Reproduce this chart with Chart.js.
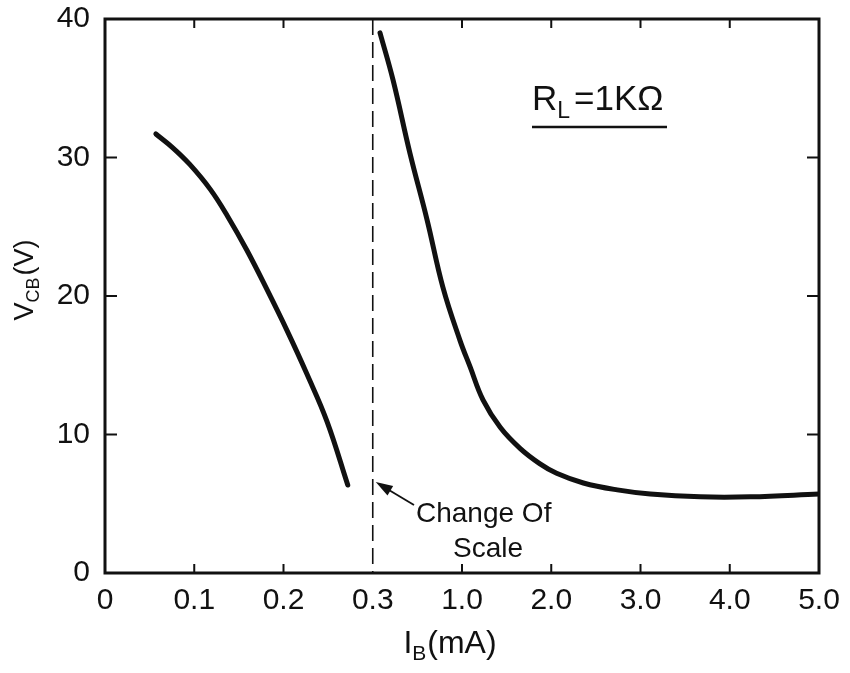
<!DOCTYPE html>
<html>
<head>
<meta charset="utf-8">
<title>VCB vs IB</title>
<script src="https://cdn.jsdelivr.net/npm/chart.js@4.4.1/dist/chart.umd.min.js"></script>
<style>
  html, body { margin: 0; padding: 0; background: #fff; }
  #wrap { width: 850px; height: 673px; }
</style>
</head>
<body>
<div id="wrap"><canvas id="vcbChart" width="850" height="673"></canvas></div>
<script>
// Collector-base voltage against base current, RL = 1 kOhm.
// The IB axis changes scale at 0.3 mA.

// Low-current branch (0 - 0.3 mA scale)
const LOW_IB = [0.057, 0.076, 0.095, 0.118, 0.137, 0.159, 0.182, 0.204, 0.226, 0.249, 0.272];
const LOW_VCB = [31.7, 30.7, 29.5, 27.7, 25.8, 23.3, 20.4, 17.5, 14.4, 10.9, 6.35];

// High-current branch (0.3 - 5.0 mA scale)
const HIGH_IB = [0.357, 0.459, 0.592, 0.726, 0.851, 0.984, 1.09, 1.235, 1.43, 1.65, 1.87, 2.06, 2.36, 2.74, 3.11, 3.67, 4.23, 5.0];
const HIGH_VCB = [39.0, 35.6, 30.3, 25.5, 20.6, 16.8, 14.9, 12.5, 10.5, 9.0, 7.9, 7.2, 6.5, 6.0, 5.7, 5.5, 5.5, 5.7];

// Axis ticks
const X_TICK_IB = [0, 0.1, 0.2, 0.3, 1.0, 2.0, 3.0, 4.0, 5.0];
const X_TICK_LABELS = ['0', '0.1', '0.2', '0.3', '1.0', '2.0', '3.0', '4.0', '5.0'];
const Y_TICKS = [0, 10, 20, 30, 40];

const SCALE_BREAK = 0.3;

const INK = '#111';
const FONT = '"Liberation Sans", Arial, sans-serif';

// Map a base current (mA) onto the broken axis: 0.1 mA per unit below
// the break, then 0.3 -> 1.0 takes one unit and 1 mA per unit after that.
function toAxis(ib) {
  if (ib <= SCALE_BREAK) return ib * 10;
  if (ib <= 1.0) return 3 + (ib - SCALE_BREAK) / 0.7;
  return 4 + (ib - 1.0);
}

function toPoints(xs, ys) {
  return xs.map((x, i) => ({ x: toAxis(x), y: ys[i] }));
}

// Draws text made of normal and subscript runs starting at x
function drawRuns(ctx, runs, x, y, size) {
  let cx = x;
  runs.forEach(r => {
    const s = r.sub ? Math.round(size * 0.66) : size;
    ctx.font = s + 'px ' + FONT;
    ctx.fillText(r.t, cx, r.sub ? y + size * 0.22 : y);
    cx += ctx.measureText(r.t).width + (r.gap || 0);
  });
  return cx - x;
}

function runsWidth(ctx, runs, size) {
  let w = 0;
  runs.forEach(r => {
    const s = r.sub ? Math.round(size * 0.66) : size;
    ctx.font = s + 'px ' + FONT;
    w += ctx.measureText(r.t).width + (r.gap || 0);
  });
  return w;
}

const frameAndNotes = {
  id: 'frameAndNotes',
  afterDatasetsDraw(chart) {
    const { ctx, chartArea: a, scales: { x, y } } = chart;
    ctx.save();
    ctx.strokeStyle = INK;
    ctx.fillStyle = INK;

    // frame
    ctx.lineWidth = 3;
    ctx.strokeRect(a.left, a.top, a.right - a.left, a.bottom - a.top);

    // inward ticks on all four sides
    ctx.lineWidth = 2;
    ctx.beginPath();
    y.ticks.forEach(t => {
      if (t.value <= 0 || t.value >= 40) return;
      const py = y.getPixelForValue(t.value);
      ctx.moveTo(a.left, py); ctx.lineTo(a.left + 12, py);
      ctx.moveTo(a.right, py); ctx.lineTo(a.right - 12, py);
    });
    x.ticks.forEach(t => {
      if (t.value <= 0 || t.value >= 8 || t.value === toAxis(SCALE_BREAK)) return;
      const px = x.getPixelForValue(t.value);
      ctx.moveTo(px, a.bottom); ctx.lineTo(px, a.bottom - 9);
      ctx.moveTo(px, a.top); ctx.lineTo(px, a.top + 9);
    });
    ctx.stroke();

    // dashed line at the change of scale
    const xb = x.getPixelForValue(toAxis(SCALE_BREAK));
    ctx.lineWidth = 1.6;
    ctx.setLineDash([16, 7]);
    ctx.beginPath();
    ctx.moveTo(xb, a.top);
    ctx.lineTo(xb, a.bottom);
    ctx.stroke();
    ctx.setLineDash([]);

    // arrow pointing at the dashed line
    const tipX = xb + 3, tipY = 482, tailX = 414, tailY = 505;
    const ang = Math.atan2(tipY - tailY, tipX - tailX);
    ctx.lineWidth = 1.8;
    ctx.beginPath();
    ctx.moveTo(tailX, tailY);
    ctx.lineTo(tipX - 10 * Math.cos(ang), tipY - 10 * Math.sin(ang));
    ctx.stroke();
    ctx.beginPath();
    ctx.moveTo(tipX, tipY);
    ctx.lineTo(tipX - 17 * Math.cos(ang) + 5.5 * Math.sin(ang), tipY - 17 * Math.sin(ang) - 5.5 * Math.cos(ang));
    ctx.lineTo(tipX - 17 * Math.cos(ang) - 5.5 * Math.sin(ang), tipY - 17 * Math.sin(ang) + 5.5 * Math.cos(ang));
    ctx.closePath();
    ctx.fill();

    // "Change Of Scale" note
    ctx.textBaseline = 'alphabetic';
    ctx.font = '28px ' + FONT;
    ctx.textAlign = 'left';
    ctx.fillText('Change Of', 416, 522);
    ctx.textAlign = 'center';
    ctx.fillText('Scale', 488, 557);

    // load resistance label, underlined
    ctx.textAlign = 'left';
    const rl = [{ t: 'R' }, { t: 'L', sub: true, gap: 4 }, { t: '=1K\u03A9' }];
    drawRuns(ctx, rl, 532, 110, 35);
    ctx.lineWidth = 2.5;
    ctx.beginPath();
    ctx.moveTo(532, 127);
    ctx.lineTo(667, 127);
    ctx.stroke();

    // x axis title
    const xt = [{ t: 'I' }, { t: 'B', sub: true, gap: 1 }, { t: '(mA)' }];
    const xw = runsWidth(ctx, xt, 32);
    drawRuns(ctx, xt, 450 - xw / 2, 653, 32);

    // y axis title, rotated
    ctx.save();
    ctx.translate(33, 280);
    ctx.rotate(-Math.PI / 2);
    const yt = [{ t: 'V' }, { t: 'CB', sub: true, gap: 2 }, { t: '(V)' }];
    const yw = runsWidth(ctx, yt, 27);
    drawRuns(ctx, yt, -yw / 2, 0, 27);
    ctx.restore();

    ctx.restore();
  }
};

const curveStyle = {
  borderColor: INK,
  borderWidth: 5,
  borderCapStyle: 'round',
  borderJoinStyle: 'round',
  pointRadius: 0,
  fill: false,
  tension: 0.4
};

new Chart(document.getElementById('vcbChart'), {
  type: 'line',
  data: {
    datasets: [
      Object.assign({ label: 'low', data: toPoints(LOW_IB, LOW_VCB) }, curveStyle),
      Object.assign({ label: 'high', data: toPoints(HIGH_IB, HIGH_VCB) }, curveStyle)
    ]
  },
  options: {
    responsive: false,
    animation: false,
    parsing: false,
    layout: { padding: { top: 19, right: 31, left: 0, bottom: 0 } },
    plugins: {
      legend: { display: false },
      tooltip: { enabled: false }
    },
    scales: {
      x: {
        type: 'linear',
        min: 0,
        max: toAxis(5.0),
        border: { display: false },
        grid: { display: false, drawTicks: false },
        afterBuildTicks: scale => {
          scale.ticks = X_TICK_IB.map(v => ({ value: toAxis(v) }));
        },
        afterFit: scale => {
          scale.height = 100;
          scale.paddingLeft = 0;
          scale.paddingRight = 0;
        },
        ticks: {
          color: INK,
          padding: 10,
          maxRotation: 0,
          autoSkip: false,
          font: { family: FONT, size: 30 },
          callback: (value, index) => X_TICK_LABELS[index]
        }
      },
      y: {
        min: 0,
        max: 40,
        border: { display: false },
        grid: { display: false, drawTicks: false },
        afterBuildTicks: scale => {
          scale.ticks = Y_TICKS.map(v => ({ value: v }));
        },
        afterFit: scale => {
          scale.width = 105;
          scale.paddingTop = 0;
          scale.paddingBottom = 0;
        },
        ticks: {
          color: INK,
          padding: 15,
          font: { family: FONT, size: 30 }
        }
      }
    }
  },
  plugins: [frameAndNotes]
});
</script>
</body>
</html>
